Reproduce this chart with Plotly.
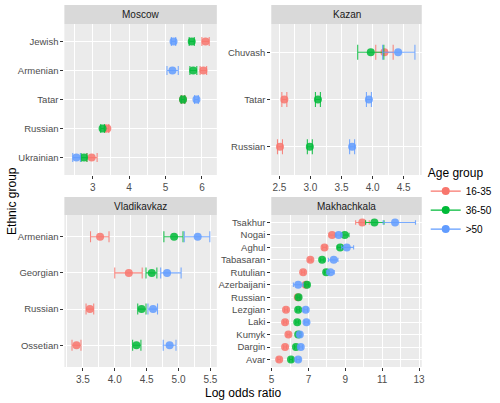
import plotly.graph_objects as go

# ---------------- data ----------------
groups = ["16-35", "36-50", ">50"]
colors = ["#F8766D", "#00BA38", "#619CFF"]
rgba = ["rgba(248,118,109,0.85)", "rgba(0,186,56,0.85)", "rgba(97,156,255,0.85)"]

moscow_cats = ["Ukrainian", "Russian", "Tatar", "Armenian", "Jewish"]
moscow_est = [[2.97, 3.40, 5.48, 6.04, 6.10],
              [2.76, 3.27, 5.48, 5.76, 5.72],
              [2.55, None, 5.85, 5.19, 5.22]]
moscow_lo = [[2.84, 3.36, 5.43, 5.95, 6.00],
             [2.68, 3.22, 5.43, 5.67, 5.65],
             [2.45, None, 5.80, 5.04, 5.16]]
moscow_hi = [[3.12, 3.44, 5.53, 6.13, 6.20],
             [2.84, 3.32, 5.53, 5.86, 5.79],
             [2.66, None, 5.90, 5.35, 5.28]]

kazan_cats = ["Russian", "Tatar", "Chuvash"]
kazan_est = [[2.51, 2.58, 4.19],
             [2.99, 3.12, 3.97],
             [3.67, 3.94, 4.41]]
kazan_lo = [[2.47, 2.54, 4.05],
            [2.95, 3.08, 3.76],
            [3.63, 3.90, 4.16]]
kazan_hi = [[2.55, 2.62, 4.33],
            [3.03, 3.16, 4.18],
            [3.71, 3.98, 4.68]]

vlad_cats = ["Ossetian", "Russian", "Georgian", "Armenian"]
vlad_est = [[3.40, 3.61, 4.22, 3.77],
            [4.34, 4.42, 4.58, 4.93],
            [4.86, 4.60, 4.82, 5.30]]
vlad_lo = [[3.33, 3.55, 4.00, 3.62],
           [4.28, 4.36, 4.49, 4.77],
           [4.76, 4.52, 4.72, 5.09]]
vlad_hi = [[3.47, 3.67, 4.43, 3.91],
           [4.41, 4.49, 4.66, 5.07],
           [4.96, 4.67, 5.04, 5.49]]

makh_cats = ["Avar", "Dargin", "Kumyk", "Laki", "Lezgian", "Russian",
             "Azerbaijani", "Rutulian", "Tabasaran", "Aghul", "Nogai", "Tsakhur"]
makh_est = [[5.41, 5.73, 5.91, 5.73, 5.78, 6.42, 6.85, 6.71, 7.10, 7.87, 8.28, 9.92],
            [6.05, 6.32, 6.44, 6.39, 6.44, 6.46, 6.92, 7.96, 7.74, 8.72, 8.97, 10.58],
            [6.44, 6.58, 6.53, 6.89, 6.85, None, 6.44, 8.19, 8.37, 9.08, 8.64, 11.70]]
makh_lo = [[5.33, 5.65, 5.83, 5.65, 5.70, 6.34, 6.75, 6.63, 7.02, 7.77, 8.12, 9.56],
           [5.97, 6.24, 6.36, 6.31, 6.36, 6.38, 6.82, 7.86, 7.64, 8.56, 8.76, 10.10],
           [6.34, 6.48, 6.43, 6.79, 6.75, None, 6.18, 8.00, 8.08, 8.80, 8.50, 11.05]]
makh_hi = [[5.49, 5.81, 5.99, 5.81, 5.86, 6.50, 6.95, 6.79, 7.18, 7.97, 8.44, 10.30],
           [6.13, 6.40, 6.52, 6.47, 6.52, 6.54, 7.02, 8.06, 7.84, 8.88, 9.20, 11.10],
           [6.54, 6.68, 6.63, 6.99, 6.95, None, 6.71, 8.40, 8.60, 9.45, 8.80, 12.81]]

panels = [
    # name, cats, est, lo, hi, xrange, dtick, tick0, minor, tickformat, capwidth, axis suffix
    ("Moscow", moscow_cats, moscow_est, moscow_lo, moscow_hi, [2.22, 6.41], 1, 0, 0.5, "d", 4.5, ""),
    ("Kazan", kazan_cats, kazan_est, kazan_lo, kazan_hi, [2.37, 4.79], 0.5, 0, 0.25, ".1f", 7.5, "2"),
    ("Vladikavkaz", vlad_cats, vlad_est, vlad_lo, vlad_hi, [3.21, 5.60], 0.5, 0, 0.25, ".1f", 5.5, "3"),
    ("Makhachkala", makh_cats, makh_est, makh_lo, makh_hi, [4.98, 13.15], 2, 1, 1, "d", 2.2, "4"),
]

W, H = 500, 403
xdom = {"": (63, 217), "2": (272, 424), "3": (63, 217), "4": (272, 424)}
ydom = {"": (24, 175), "2": (24, 175), "3": (215, 367), "4": (215, 367)}
strip = {"": (5, 24), "2": (5, 24), "3": (197, 215), "4": (197, 215)}

FONT = "Arial, Liberation Sans, sans-serif"
fig = go.Figure()

for name, cats, est, lo, hi, xr, dt, t0, mn, tf, cw, sfx in panels:
    for g in range(3):
        e = est[g]
        plus = [None if v is None else h - v for v, h in zip(e, hi[g])]
        minus = [None if v is None else v - l for v, l in zip(e, lo[g])]
        fig.add_trace(go.Scatter(
            x=e, y=cats, mode="markers",
            marker=dict(color=rgba[g], size=8, line=dict(width=0)),
            error_x=dict(type="data", symmetric=False, array=plus, arrayminus=minus,
                         color=rgba[g], thickness=1.1, width=cw),
            xaxis="x" + sfx, yaxis="y" + sfx, showlegend=False, hoverinfo="x+y",
        ))

for g in range(3):
    fig.add_trace(go.Scatter(
        x=[None], y=[None], mode="lines+markers", name=groups[g],
        marker=dict(color=colors[g], size=8), line=dict(color=colors[g], width=1.1),
        xaxis="x", yaxis="y", showlegend=True,
    ))

layout = dict(
    width=W, height=H, autosize=False,
    margin=dict(l=0, r=0, t=0, b=0),
    paper_bgcolor="white", plot_bgcolor="#EBEBEB",
    font=dict(family=FONT, color="#4D4D4D", size=10),
    legend=dict(
        title=dict(text="Age group", font=dict(size=12, color="#000000")),
        x=428 / W, y=1 - 161 / H, xanchor="left", yanchor="top",
        font=dict(size=10, color="#000000"), bgcolor="rgba(0,0,0,0)",
        tracegroupgap=0, itemwidth=30,
    ),
    shapes=[], annotations=[],
)

for name, cats, est, lo, hi, xr, dt, t0, mn, tf, cw, sfx in panels:
    x0, x1 = xdom[sfx]
    y0, y1 = ydom[sfx]
    layout["xaxis" + sfx] = dict(
        domain=[x0 / W, x1 / W], range=xr, anchor="y" + sfx,
        dtick=dt, tick0=t0, tickformat=tf,
        showgrid=True, gridcolor="white", gridwidth=1.1,
        minor=dict(dtick=mn, tick0=0, showgrid=True, gridcolor="white", gridwidth=0.5),
        zeroline=False, showline=False, ticks="outside", ticklen=3,
        tickcolor="#333333", tickwidth=1,
        tickfont=dict(size=10, color="#4D4D4D", family=FONT),
    )
    layout["yaxis" + sfx] = dict(
        domain=[1 - y1 / H, 1 - y0 / H], anchor="x" + sfx,
        type="category", categoryorder="array", categoryarray=cats,
        range=[-0.6, len(cats) - 0.4],
        showgrid=True, gridcolor="white", gridwidth=1.1,
        zeroline=False, showline=False, ticks="outside", ticklen=3,
        tickcolor="#333333", tickwidth=1,
        tickfont=dict(size=9.5, color="#4D4D4D", family=FONT),
    )
    s0, s1 = strip[sfx]
    layout["shapes"].append(dict(
        type="rect", xref="paper", yref="paper",
        x0=x0 / W, x1=x1 / W, y0=1 - s1 / H, y1=1 - s0 / H,
        fillcolor="#D9D9D9", line=dict(width=0), layer="below",
    ))
    layout["annotations"].append(dict(
        text=name, xref="paper", yref="paper",
        x=(x0 + x1) / 2 / W, y=1 - (s0 + s1) / 2 / H,
        showarrow=False, xanchor="center", yanchor="middle",
        font=dict(size=10, color="#1A1A1A", family=FONT),
    ))

layout["annotations"].append(dict(
    text="Log odds ratio", xref="paper", yref="paper",
    x=243 / W, y=1 - 393 / H, showarrow=False, xanchor="center", yanchor="middle",
    font=dict(size=12, color="#000000", family=FONT),
))
layout["annotations"].append(dict(
    text="Ethnic group", xref="paper", yref="paper", textangle=-90,
    x=10 / W, y=1 - 201 / H, showarrow=False, xanchor="center", yanchor="middle",
    font=dict(size=12, color="#000000", family=FONT),
))

fig.update_layout(**layout)
fig.write_html(
    "out.html",
    config={"displayModeBar": False},
    post_script="document.body.style.margin='0';document.body.style.padding='0';document.body.style.overflow='hidden';",
)
